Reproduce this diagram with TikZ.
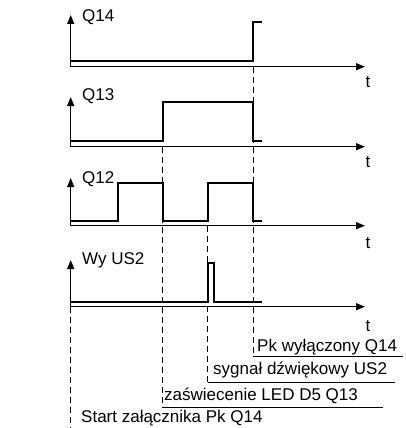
\documentclass[tikz,border=0pt]{standalone}
\usepackage{fontspec}
\setmainfont{Liberation Sans}
\usetikzlibrary{arrows.meta}
\begin{document}
\begin{tikzpicture}[x=1pt,y=-1pt,
  axis/.style={line width=1.2pt,-{Triangle[length=9pt,width=7pt]}},
  sig/.style={line width=2pt,line join=miter},
  guide/.style={line width=1pt,dash pattern=on 6pt off 4pt},
  uline/.style={line width=1.2pt},
  lbl/.style={font=\fontsize{17}{20}\selectfont,inner sep=0pt,anchor=west},
  tl/.style={font=\fontsize{17}{20}\selectfont,inner sep=0pt}]
\useasboundingbox (0,0) rectangle (406,428);
% guides
\draw[guide] (253.3,66.7) -- (253.3,356.7);
\draw[guide] (207.7,225.7) -- (207.7,382.7);
\draw[guide] (162.7,146.7) -- (162.7,407.3);
\draw[guide] (70.7,306.7) -- (70.7,428);
% axes
\foreach \y/\top/\name in {66.7/15/a, 146.7/97/b, 225.7/178/c, 306.7/260/d}{
  \coordinate (o\name) at (70.7,\y);
  \draw[axis] (o\name) -- (365,\y);
  \draw[axis] (o\name) -- (70.7,\top);
}
% labels
\node[lbl] (lq14) at (82,17) {Q14};
\node[lbl] (lq13) at (82,96) {Q13};
\node[lbl] (lq12) at (82,179) {Q12};
\node[lbl] (lus2) at (82,260) {Wy US2};
\node[tl] (t1) at (368,82) {t};
\node[tl] (t2) at (368,162) {t};
\node[tl] (t3) at (368,243) {t};
\node[tl] (t4) at (368,326) {t};
% signals
\draw[sig] (70.7,60.7) -- (253.3,60.7) -- (253.3,22) -- (261.7,22);
\draw[sig] (70.7,140.7) -- (162.7,140.7) -- (162.7,102.3) -- (253.3,102.3) -- (253.3,140.7) -- (261.7,140.7);
\draw[sig] (70.7,220.7) -- (117.7,220.7) -- (117.7,183.3) -- (162.7,183.3) -- (162.7,220.7) -- (207.7,220.7) -- (207.7,183.3) -- (253.3,183.3) -- (253.3,220.7) -- (261.7,220.7);
\draw[sig] (70.7,301.7) -- (207.7,301.7) -- (207.7,263.3) -- (214.3,263.3) -- (214.3,301.7) -- (261.7,301.7);
% event labels
\node[lbl] (e1) at (257,347) {Pk wyłączony Q14};
\draw[uline] (253.3,356.7) -- (403,356.7);
\node[lbl] (e2) at (213,370) {sygnał dźwiękowy US2};
\draw[uline] (207.7,382.7) -- (395,382.7);
\node[lbl] (e3) at (164,396) {zaświecenie LED D5 Q13};
\draw[uline] (162.7,407.3) -- (383,407.3);
\node[lbl] (e4) at (81,418) {Start załącznika Pk Q14};
\end{tikzpicture}
\end{document}
